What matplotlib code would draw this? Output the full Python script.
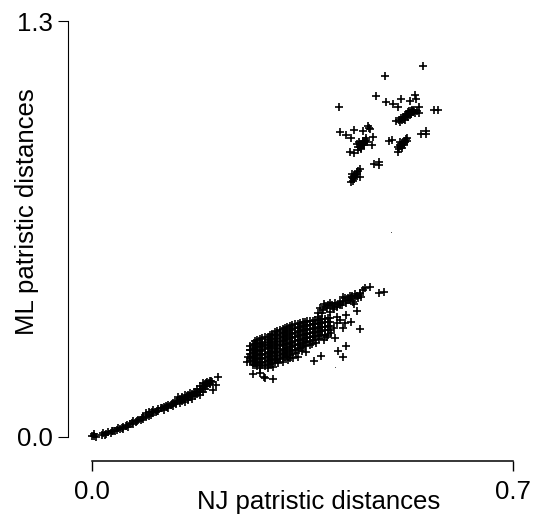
import numpy as np
import matplotlib
matplotlib.use("Agg")
import matplotlib.pyplot as plt

plt.rcParams['font.family'] = ['Liberation Sans', 'DejaVu Sans']

x_ticks = [0.0, 0.7]
y_ticks = [0.0, 1.3]
x_tick_labels = ['0.0', '0.7']
y_tick_labels = ['0.0', '1.3']
x_name = 'NJ patristic distances'
y_name = 'ML patristic distances'

top_pts = [(.550,1.160),(.488,1.129),(.473,1.065),(.411,1.032),(.489,1.048),(.501,1.041),(.508,1.030),
           (.513,1.056),(.528,1.051),(.537,1.069),(.539,1.057),(.544,1.032),(.569,1.021),(.576,1.022),
           (.505,.987),(.512,.985),(.518,.995),(.522,1.005),(.526,1.015),(.530,1.020),(.534,1.015),
           (.543,1.012),(.532,1.023),(.515,.990),(.520,1.000),(.524,1.008),(.528,1.012),(.531,1.010),
           (.536,1.022),(.540,1.020),(.517,1.000),(.527,1.020),(.547,.947),(.555,.956),(.555,.946),
           (.412,.952),(.423,.944),(.430,.933),(.436,.959),(.451,.956),(.459,.972),(.462,.962),
           (.468,.937),(.466,.912),(.429,.892),(.436,.887),(.443,.897),(.446,.907),(.450,.918),
           (.454,.926),(.458,.923),(.440,.915),(.448,.902),(.444,.923),(.452,.913),(.455,.935),
           (.493,.925),(.499,.928),(.508,.892),(.509,.907),(.512,.923),(.515,.902),(.518,.918),
           (.522,.930),(.524,.933),(.520,.925),(.512,.913),(.469,.852),(.477,.858),(.477,.850),
           (.431,.796),(.434,.808),(.433,.822),(.437,.819),(.441,.829),(.446,.836),(.446,.813),(.435,.815),
           (.521,.992),(.525,1.000),(.529,1.006),(.533,1.018),(.537,1.012),(.510,.992),(.514,.998),
           (.447,.900),(.449,.912),(.451,.925),(.453,.920),(.456,.928),(.442,.905),(.445,.915),(.460,.966),
           (.514,.908),(.516,.920),(.519,.912),(.521,.922),(.510,.900),(.523,.926),
           (.436,.805),(.438,.812),(.432,.812),(.440,.822),(.443,.832),(.434,.800)]

# dense middle cloud
body_pts = [(.263,.285),(.263,.272),(.263,.260),(.263,.248),(.263,.237),
            (.271,.300),(.271,.288),(.271,.276),(.271,.262),(.271,.250),(.271,.238),(.271,.226),
            (.279,.305),(.279,.292),(.279,.280),(.279,.268),(.279,.255),(.279,.243),(.279,.230),
            (.288,.311),(.288,.298),(.288,.286),(.288,.274),(.288,.260),(.288,.248),(.288,.235),(.288,.222),
            (.296,.318),(.296,.305),(.296,.293),(.296,.280),(.296,.266),(.296,.254),(.296,.241),(.296,.228),
            (.304,.328),(.304,.315),(.304,.300),(.304,.288),(.304,.275),(.304,.262),(.304,.248),(.304,.235),
            (.313,.335),(.313,.322),(.313,.310),(.313,.296),(.313,.284),(.313,.270),(.313,.257),(.313,.244),
            (.321,.340),(.321,.328),(.321,.315),(.321,.303),(.321,.290),(.321,.276),(.321,.262),(.321,.250),
            (.329,.347),(.329,.334),(.329,.321),(.329,.308),(.329,.295),(.329,.282),(.329,.268),(.329,.255),
            (.338,.352),(.338,.340),(.338,.326),(.338,.314),(.338,.300),(.338,.287),(.338,.273),
            (.346,.356),(.346,.344),(.346,.331),(.346,.318),(.346,.304),(.346,.291),(.346,.278),
            (.354,.360),(.354,.348),(.354,.335),(.354,.322),(.354,.309),(.354,.296),(.354,.283),
            (.362,.362),(.362,.350),(.362,.338),(.362,.325),(.362,.312),(.362,.300),
            (.371,.365),(.371,.353),(.371,.340),(.371,.328),(.371,.315),(.371,.303),
            (.379,.368),(.379,.355),(.379,.343),(.379,.330),(.379,.318),
            (.387,.370),(.387,.358),(.387,.345),(.387,.333),(.387,.320),
            (.396,.372),(.396,.360),(.396,.348)]

# same cloud, the points lying between the ones above
body_fill_pts = [(.267,.292),(.267,.279),(.267,.266),(.267,.254),(.267,.243),(.267,.232),
                 (.275,.302),(.275,.294),(.275,.282),(.275,.269),(.275,.256),(.275,.244),(.275,.232),(.275,.221),
                 (.283,.308),(.283,.295),(.283,.283),(.283,.271),(.283,.258),(.283,.246),(.283,.233),(.283,.224),
                 (.292,.314),(.292,.302),(.292,.289),(.292,.277),(.292,.263),(.292,.251),(.292,.238),(.292,.226),
                 (.300,.323),(.300,.310),(.300,.297),(.300,.284),(.300,.270),(.300,.258),(.300,.245),(.300,.232),
                 (.308,.331),(.308,.318),(.308,.305),(.308,.292),(.308,.279),(.308,.266),(.308,.252),(.308,.240),
                 (.317,.338),(.317,.325),(.317,.312),(.317,.300),(.317,.287),(.317,.273),(.317,.260),(.317,.247),
                 (.325,.344),(.325,.331),(.325,.318),(.325,.305),(.325,.292),(.325,.279),(.325,.265),(.325,.252),
                 (.333,.349),(.333,.337),(.333,.324),(.333,.311),(.333,.298),(.333,.285),(.333,.271),(.333,.258),
                 (.342,.354),(.342,.342),(.342,.329),(.342,.316),(.342,.302),(.342,.289),(.342,.275),
                 (.350,.358),(.350,.346),(.350,.333),(.350,.320),(.350,.306),(.350,.293),(.350,.280),
                 (.358,.361),(.358,.349),(.358,.336),(.358,.323),(.358,.310),(.358,.298),
                 (.367,.364),(.367,.352),(.367,.339),(.367,.326),(.367,.314),(.367,.302),
                 (.375,.367),(.375,.354),(.375,.342),(.375,.329),(.375,.316),
                 (.383,.369),(.383,.357),(.383,.344),(.383,.331),(.383,.319),
                 (.392,.371),(.392,.359),(.392,.346),(.392,.334)]

# upper strand of the middle cloud
strand_pts = [(.376,.386),(.379,.402),(.385,.416),(.396,.418),(.404,.420),(.412,.423),(.421,.433),
              (.429,.441),(.437,.447),(.446,.449),(.451,.459),(.463,.468),(.454,.465),(.477,.449),
              (.485,.454),(.390,.402),(.401,.407),(.415,.412),(.423,.418),(.434,.423),(.443,.433),
              (.448,.438),(.382,.386),(.407,.407),(.429,.428),(.418,.438),(.437,.436),(.376,.376),(.396,.392),
              (.388,.410),(.393,.412),(.399,.413),(.409,.416),(.418,.425),(.426,.435),(.433,.440),(.441,.442),
              (.445,.444),(.425,.428),(.431,.434),(.412,.414),(.403,.400),(.384,.396)]

# loose points around the middle cloud
loose_pts = [(.423,.381),(.408,.376),(.440,.395),(.436,.416),(.421,.357),(.430,.360),(.407,.355),
             (.417,.342),(.446,.337),(.404,.308),(.396,.334),(.393,.319),(.398,.324),(.422,.284),
             (.409,.268),(.418,.249),(.381,.254),(.369,.237),(.343,.251),(.356,.267),(.335,.246),
             (.362,.288),(.373,.293),(.385,.303),(.260,.251),(.257,.235),(.267,.225),(.279,.215),
             (.280,.201),(.267,.196),(.286,.189),(.288,.183),(.301,.182),(.293,.215),(.301,.220),
             (.318,.235),(.326,.241),(.310,.230),(.263,.272),(.349,.268),(.366,.290),(.378,.306),
             (.340,.262),(.330,.248),(.390,.312),(.402,.340),(.412,.366)]

# lower band near the origin
low_pts = [(.000,.002),(.003,.003),(.003,.008),(.006,.001),(.016,.005),(.019,.012),(.024,.010),(.027,.016),
           (.031,.014),(.035,.020),(.039,.019),(.043,.027),(.047,.024),(.052,.032),(.052,.026),(.056,.034),
           (.060,.032),(.064,.042),(.069,.049),(.069,.040),(.073,.046),(.077,.054),(.081,.054),(.085,.064),
           (.085,.056),(.089,.074),(.089,.063),(.094,.078),(.094,.066),(.098,.070),(.102,.084),(.102,.074),
           (.106,.078),(.110,.087),(.110,.080),(.114,.090),(.119,.094),(.119,.085),(.123,.097),(.127,.100),
           (.127,.092),(.131,.100),(.135,.105),(.135,.098),(.140,.104),(.142,.112),(.146,.106),(.146,.118),
           (.150,.112),(.150,.124),(.155,.110),(.155,.122),(.155,.130),(.160,.116),(.160,.130),(.163,.124),
           (.163,.136),(.167,.120),(.167,.134),(.171,.128),(.171,.142),(.175,.135),(.175,.150),(.180,.132),
           (.180,.146),(.180,.160),(.184,.140),(.184,.155),(.184,.168),(.188,.150),(.188,.165),(.192,.160),
           (.192,.172),(.196,.165),(.196,.175),(.200,.172),(.206,.163),(.202,.147),(.210,.188),(.1435,.126),
           (.022,.007),(.033,.018),(.041,.022),(.050,.028),(.058,.038),(.066,.044),(.075,.050),(.083,.059),
           (.092,.070),(.100,.079),(.108,.082),(.117,.090),(.125,.095),(.133,.102),(.138,.108),(.148,.115),
           (.153,.118),(.158,.124),(.165,.128),(.169,.136),(.173,.140),(.178,.142),(.182,.150),(.186,.160),
           (.190,.168),(.194,.168),(.198,.176)]

# two tiny specks
speck_pts = [(.497,.641),(.404,.218)]

W, H = 538, 515
fig = plt.figure(figsize=(W / 100, H / 100), dpi=100, facecolor='white')
ax = fig.add_axes([92 / W, 1 - 437 / H, (513 - 92) / W, (437 - 21) / H])
ax.set_xlim(0, 0.7)
ax.set_ylim(0, 1.3)

for pts in [top_pts, body_pts, body_fill_pts, strand_pts, loose_pts, low_pts]:
    xs, ys = np.array(pts).T
    ax.plot(xs, ys, ls='none', marker='+', ms=5.6, mew=1.2, color='black', clip_on=False)
xs, ys = np.array(speck_pts).T
ax.plot(xs, ys, ls='none', marker='.', ms=1.5, mew=0, color='#333333', clip_on=False)

for side in ['top', 'right']:
    ax.spines[side].set_visible(False)
ax.spines['bottom'].set_position(('outward', 17.3))
ax.spines['left'].set_position(('outward', 17.3))
ax.spines['bottom'].set_linewidth(1.1)
ax.spines['left'].set_linewidth(0.8)

ax.set_xticks(x_ticks, x_tick_labels)
ax.set_yticks(y_ticks, y_tick_labels)
ax.tick_params(axis='x', length=7, width=1.0, labelsize=18.5, pad=7)
ax.tick_params(axis='y', length=7, width=0.8, labelsize=18.5, pad=4)

ax.set_xlabel(x_name, fontsize=18.5)
ax.xaxis.set_label_coords((319 - 92) / (513 - 92), (437 - 502) / (437 - 21), transform=ax.transAxes)
ax.xaxis.label.set_va('center')
ax.set_ylabel(y_name, fontsize=18.5)
ax.yaxis.set_label_coords((27 - 92) / (513 - 92), (437 - 212) / (437 - 21), transform=ax.transAxes)
ax.yaxis.label.set_va('center')

fig.savefig('out.png', dpi=100)
